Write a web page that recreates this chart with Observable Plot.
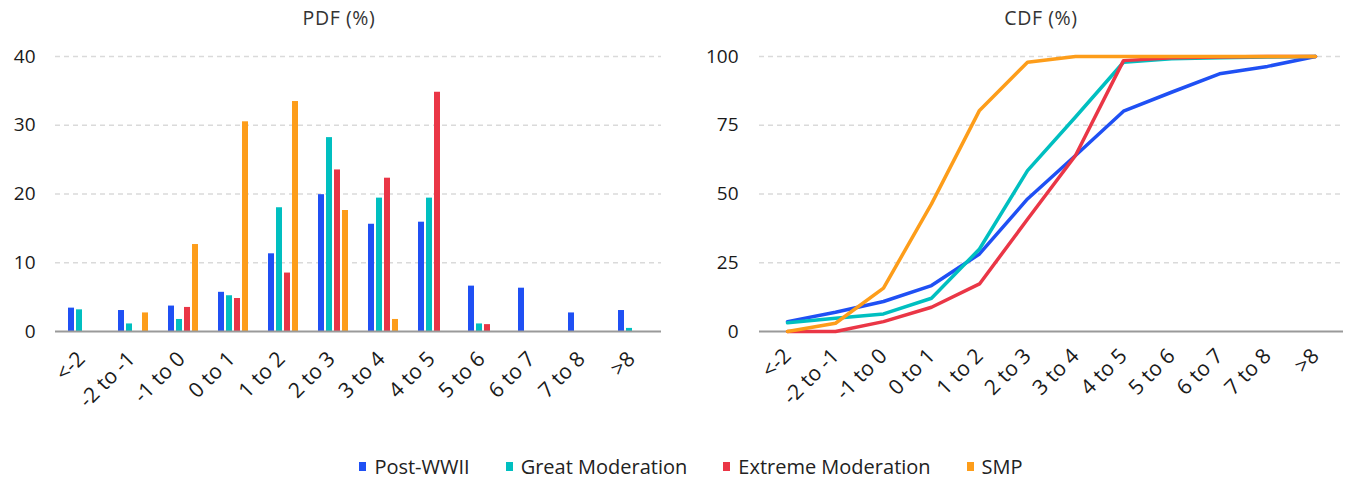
<!DOCTYPE html>
<html>
<head>
<meta charset="utf-8">
<script src="https://cdn.jsdelivr.net/npm/d3@7"></script>
<script src="https://cdn.jsdelivr.net/npm/@observablehq/plot@0.6"></script>
<style>
  body { margin: 0; background: #fff; font-family: "Open Sans", "Noto Sans", sans-serif; }
  #wrap { position: relative; width: 1346px; height: 480px; }
  .panel { position: absolute; top: 0; }
  .title { position: absolute; top: 4px; font-size: 19.5px; letter-spacing: 0.6px; color: #333; transform: translateX(-50%); white-space: nowrap; }
  #legend { position: absolute; top: 453px; left: 18px; width: 1346px; display: flex; justify-content: center; gap: 36px; font-size: 20px; color: #222; }
  #legend .item { display: flex; align-items: center; gap: 8px; }
  #legend .sw { width: 7px; height: 9px; display: inline-block; }
</style>
</head>
<body>
<div id="wrap">
  <div class="title" style="left:339px">PDF (%)</div>
  <div class="title" style="left:1041px">CDF (%)</div>
  <div id="leftBg" class="panel" style="left:0"></div>
  <div id="leftBars" class="panel" style="left:0"></div>
  <div id="leftBase" class="panel" style="left:0"></div>
  <div id="right" class="panel" style="left:673px"></div>
  <div id="legend"></div>
</div>
<script>
const categories = ["<-2","-2 to -1","-1 to 0","0 to 1","1 to 2","2 to 3","3 to 4","4 to 5","5 to 6","6 to 7","7 to 8",">8"];
const seriesNames = ["Post-WWII","Great Moderation","Extreme Moderation","SMP"];
const seriesColors = ["#1f50f4","#00bfc0","#ea3646","#fd9d1a"];

const pdfPostWWII          = [3.4, 3.05, 3.7, 5.7, 11.3, 19.9, 15.6, 15.9, 6.6, 6.3, 2.7, 3.05];
const pdfGreatModeration   = [3.15, 1.1, 1.75, 5.2, 18.0, 28.2, 19.4, 19.4, 1.1, 0, 0, 0.45];
const pdfExtremeModeration = [0, 0, 3.5, 4.8, 8.5, 23.5, 22.3, 34.8, 1.0, 0, 0, 0];
const pdfSMP               = [0, 2.7, 12.65, 30.5, 33.45, 17.6, 1.75, 0, 0, 0, 0, 0];

const cdfPostWWII          = [3.6, 7.0, 10.9, 16.7, 28.2, 48.2, 64.0, 80.1, 87.0, 93.7, 96.4, 100];
const cdfGreatModeration   = [3.15, 4.85, 6.4, 12.1, 30.0, 58.5, 78.0, 97.9, 99.2, 99.5, 99.8, 100];
const cdfExtremeModeration = [0, 0, 3.6, 8.8, 17.3, 40.8, 64.0, 98.5, 99.5, 99.8, 100, 100];
const cdfSMP               = [0, 3.0, 15.8, 46.4, 80.4, 97.9, 100, 100, 100, 100, 100, 100];

const pdfTicks = [0, 10, 20, 30, 40];
const cdfTicks = [0, 25, 50, 75, 100];

const pdfSeries = [pdfPostWWII, pdfGreatModeration, pdfExtremeModeration, pdfSMP];
const cdfSeries = [cdfPostWWII, cdfGreatModeration, cdfExtremeModeration, cdfSMP];

const pdfData = [];
pdfSeries.forEach((vals, si) => vals.forEach((v, ci) => {
  if (v > 0) pdfData.push({cat: categories[ci], series: seriesNames[si], value: v});
}));
const cdfData = [];
cdfSeries.forEach((vals, si) => vals.forEach((v, ci) => {
  cdfData.push({cat: categories[ci], series: seriesNames[si], value: v});
}));

const style = {fontFamily: "'Open Sans', 'Noto Sans', sans-serif", fontSize: "19px", color: "#1a1a1a", background: "transparent", overflow: "visible"};
const dims = {width: 673, height: 440, marginTop: 56, marginBottom: 109};

// Left background: axes, grid
const leftBg = Plot.plot({
  ...dims, marginLeft: 55, marginRight: 12,
  style,
  x: {type: "band", domain: categories, paddingInner: 0.325, paddingOuter: 0.16},
  y: {domain: [0, 40]},
  marks: [
    Plot.axisX({tickRotate: -45, tickSize: 0, tickPadding: 24, dx: -2, fontSize: 21, label: null}),
    Plot.axisY(pdfTicks, {tickSize: 0, tickPadding: 20, label: null}),
    Plot.ruleY(pdfTicks.filter(d => d > 0), {stroke: "#dadada", strokeDasharray: "5,4", strokeWidth: 1.5})
  ]
});
document.getElementById("leftBg").appendChild(leftBg);

// Left bars (faceted grouped bars)
const leftBars = Plot.plot({
  ...dims, marginLeft: 55, marginRight: 12,
  style,
  fx: {domain: categories, paddingInner: 0.325, paddingOuter: 0.16, axis: null, label: null},
  x: {domain: seriesNames, axis: null, paddingInner: 0.222, paddingOuter: 0},
  y: {domain: [0, 40], axis: null},
  color: {domain: seriesNames, range: seriesColors},
  marks: [
    Plot.barY(pdfData, {fx: "cat", x: "series", y: "value", fill: "series"})
  ]
});
document.getElementById("leftBars").appendChild(leftBars);

// Baseline drawn above bars
const leftBase = Plot.plot({
  ...dims, marginLeft: 55, marginRight: 12,
  style,
  x: {axis: null}, y: {domain: [0, 40], axis: null},
  marks: [Plot.ruleY([0], {stroke: "#9a9a9a", strokeWidth: 2})]
});
document.getElementById("leftBase").appendChild(leftBase);

const right = Plot.plot({
  ...dims, marginLeft: 86, marginRight: 3,
  style,
  x: {type: "point", domain: categories, padding: 0.5},
  y: {domain: [0, 100]},
  color: {domain: seriesNames, range: seriesColors},
  marks: [
    Plot.axisX({tickRotate: -45, tickSize: 0, tickPadding: 21, fontSize: 21, label: null}),
    Plot.axisY(cdfTicks, {tickSize: 0, tickPadding: 21, label: null}),
    Plot.ruleY(cdfTicks.filter(d => d > 0), {stroke: "#dadada", strokeDasharray: "5,4", strokeWidth: 1.5}),
    Plot.ruleY([0], {stroke: "#9a9a9a", strokeWidth: 2}),
    Plot.line(cdfData, {x: "cat", y: "value", z: "series", stroke: "series", strokeWidth: 3.5, strokeLinejoin: "round", strokeLinecap: "round"})
  ]
});
document.getElementById("right").appendChild(right);

const legend = document.getElementById("legend");
seriesNames.forEach((name, i) => {
  const item = document.createElement("div");
  item.className = "item";
  const sw = document.createElement("span");
  sw.className = "sw";
  sw.style.background = seriesColors[i];
  const t = document.createElement("span");
  t.textContent = name;
  item.appendChild(sw); item.appendChild(t);
  legend.appendChild(item);
});
</script>
</body>
</html>
